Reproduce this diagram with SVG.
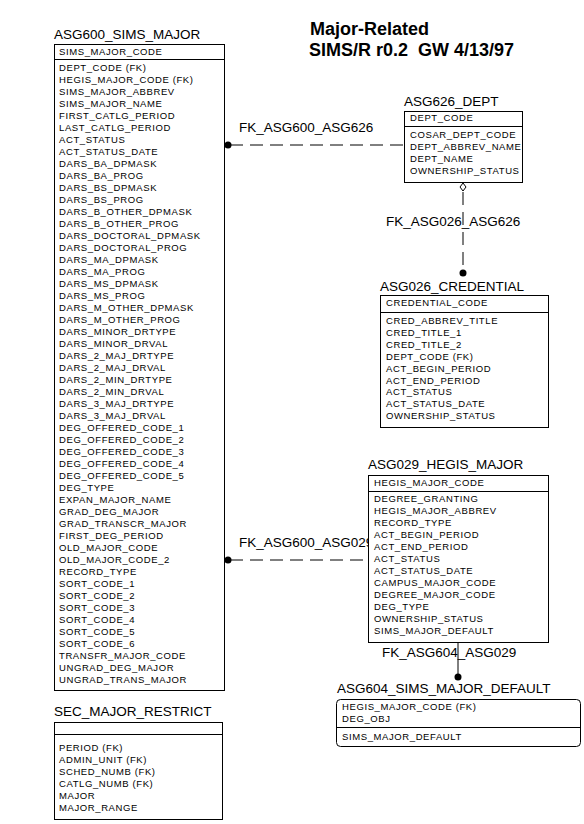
<svg xmlns="http://www.w3.org/2000/svg" width="584" height="824" viewBox="0 0 584 824">
<style>
.t{font-family:"Liberation Sans",Arial,sans-serif;font-size:13.5px;fill:#000}
.r{font-family:"Liberation Sans",Arial,sans-serif;font-size:9.5px;letter-spacing:0.6px;fill:#000}
.h{font-family:"Liberation Sans",Arial,sans-serif;font-size:18px;font-weight:bold;fill:#000}
.b{fill:#fff;stroke:#000;stroke-width:1}
.s{stroke:#000;stroke-width:1;fill:none}
.d{stroke:#000;stroke-width:1;fill:none;stroke-dasharray:13 7}
.dot{fill:#000}
</style>
<rect width="584" height="824" fill="#fff"/>
<g id="title">
<text class="h" x="310" y="35">Major-Related</text>
<text class="h" x="309" y="56" xml:space="preserve">SIMS/R r0.2  GW 4/13/97</text>
</g>
<g id="connectors">
<line class="d" x1="230" y1="145" x2="404" y2="145"/>
<circle class="dot" cx="228" cy="145" r="3.5"/>
<text class="t" x="239" y="132">FK_ASG600_ASG626</text>
<line class="d" x1="463" y1="192" x2="463" y2="270"/>
<path class="s" d="M463,183 L466,187 L463,191 L460,187 Z"/>
<circle class="dot" cx="463" cy="273" r="3.5"/>
<text class="t" x="386" y="226">FK_ASG026_ASG626</text>
<text class="t" x="239" y="547">FK_ASG600_ASG029</text>
<line class="d" x1="230" y1="560" x2="368" y2="560"/>
<circle class="dot" cx="228" cy="560" r="3.5"/>
<line class="s" x1="458" y1="643" x2="458" y2="676"/>
<circle class="dot" cx="458" cy="677" r="3.5"/>
<text class="t" x="382" y="657">FK_ASG604_ASG029</text>
</g>
<g id="ASG600_SIMS_MAJOR">
<text class="t" x="54" y="39">ASG600_SIMS_MAJOR</text>
<rect class="b" x="54.5" y="44.5" width="170" height="646"/>
<line class="s" x1="54" y1="59.5" x2="224" y2="59.5"/>
<text class="r" x="59" y="55">SIMS_MAJOR_CODE</text>
<text class="r" x="59" y="71">DEPT_CODE (FK)</text>
<text class="r" x="59" y="83">HEGIS_MAJOR_CODE (FK)</text>
<text class="r" x="59" y="95">SIMS_MAJOR_ABBREV</text>
<text class="r" x="59" y="107">SIMS_MAJOR_NAME</text>
<text class="r" x="59" y="119">FIRST_CATLG_PERIOD</text>
<text class="r" x="59" y="131">LAST_CATLG_PERIOD</text>
<text class="r" x="59" y="143">ACT_STATUS</text>
<text class="r" x="59" y="155">ACT_STATUS_DATE</text>
<text class="r" x="59" y="167">DARS_BA_DPMASK</text>
<text class="r" x="59" y="179">DARS_BA_PROG</text>
<text class="r" x="59" y="191">DARS_BS_DPMASK</text>
<text class="r" x="59" y="203">DARS_BS_PROG</text>
<text class="r" x="59" y="215">DARS_B_OTHER_DPMASK</text>
<text class="r" x="59" y="227">DARS_B_OTHER_PROG</text>
<text class="r" x="59" y="239">DARS_DOCTORAL_DPMASK</text>
<text class="r" x="59" y="251">DARS_DOCTORAL_PROG</text>
<text class="r" x="59" y="263">DARS_MA_DPMASK</text>
<text class="r" x="59" y="275">DARS_MA_PROG</text>
<text class="r" x="59" y="287">DARS_MS_DPMASK</text>
<text class="r" x="59" y="299">DARS_MS_PROG</text>
<text class="r" x="59" y="311">DARS_M_OTHER_DPMASK</text>
<text class="r" x="59" y="323">DARS_M_OTHER_PROG</text>
<text class="r" x="59" y="335">DARS_MINOR_DRTYPE</text>
<text class="r" x="59" y="347">DARS_MINOR_DRVAL</text>
<text class="r" x="59" y="359">DARS_2_MAJ_DRTYPE</text>
<text class="r" x="59" y="371">DARS_2_MAJ_DRVAL</text>
<text class="r" x="59" y="383">DARS_2_MIN_DRTYPE</text>
<text class="r" x="59" y="395">DARS_2_MIN_DRVAL</text>
<text class="r" x="59" y="407">DARS_3_MAJ_DRTYPE</text>
<text class="r" x="59" y="419">DARS_3_MAJ_DRVAL</text>
<text class="r" x="59" y="431">DEG_OFFERED_CODE_1</text>
<text class="r" x="59" y="443">DEG_OFFERED_CODE_2</text>
<text class="r" x="59" y="455">DEG_OFFERED_CODE_3</text>
<text class="r" x="59" y="467">DEG_OFFERED_CODE_4</text>
<text class="r" x="59" y="479">DEG_OFFERED_CODE_5</text>
<text class="r" x="59" y="491">DEG_TYPE</text>
<text class="r" x="59" y="503">EXPAN_MAJOR_NAME</text>
<text class="r" x="59" y="515">GRAD_DEG_MAJOR</text>
<text class="r" x="59" y="527">GRAD_TRANSCR_MAJOR</text>
<text class="r" x="59" y="539">FIRST_DEG_PERIOD</text>
<text class="r" x="59" y="551">OLD_MAJOR_CODE</text>
<text class="r" x="59" y="563">OLD_MAJOR_CODE_2</text>
<text class="r" x="59" y="575">RECORD_TYPE</text>
<text class="r" x="59" y="587">SORT_CODE_1</text>
<text class="r" x="59" y="599">SORT_CODE_2</text>
<text class="r" x="59" y="611">SORT_CODE_3</text>
<text class="r" x="59" y="623">SORT_CODE_4</text>
<text class="r" x="59" y="635">SORT_CODE_5</text>
<text class="r" x="59" y="647">SORT_CODE_6</text>
<text class="r" x="59" y="659">TRANSFR_MAJOR_CODE</text>
<text class="r" x="59" y="671">UNGRAD_DEG_MAJOR</text>
<text class="r" x="59" y="683">UNGRAD_TRANS_MAJOR</text>
</g>
<g id="ASG626_DEPT">
<text class="t" x="404" y="106">ASG626_DEPT</text>
<rect class="b" x="404.5" y="111.5" width="118" height="71"/>
<line class="s" x1="404" y1="126.5" x2="522" y2="126.5"/>
<text class="r" x="410" y="121">DEPT_CODE</text>
<text class="r" x="410" y="138">COSAR_DEPT_CODE</text>
<text class="r" x="410" y="150">DEPT_ABBREV_NAME</text>
<text class="r" x="410" y="162">DEPT_NAME</text>
<text class="r" x="410" y="174">OWNERSHIP_STATUS</text>
</g>
<g id="ASG026_CREDENTIAL">
<text class="t" x="380" y="291">ASG026_CREDENTIAL</text>
<rect class="b" x="380.5" y="295.5" width="168" height="132"/>
<line class="s" x1="380" y1="312.5" x2="548" y2="312.5"/>
<text class="r" x="386" y="306">CREDENTIAL_CODE</text>
<text class="r" x="386" y="324">CRED_ABBREV_TITLE</text>
<text class="r" x="386" y="336">CRED_TITLE_1</text>
<text class="r" x="386" y="348">CRED_TITLE_2</text>
<text class="r" x="386" y="360">DEPT_CODE (FK)</text>
<text class="r" x="386" y="372">ACT_BEGIN_PERIOD</text>
<text class="r" x="386" y="384">ACT_END_PERIOD</text>
<text class="r" x="386" y="395">ACT_STATUS</text>
<text class="r" x="386" y="407">ACT_STATUS_DATE</text>
<text class="r" x="386" y="419">OWNERSHIP_STATUS</text>
</g>
<g id="ASG029_HEGIS_MAJOR">
<text class="t" x="368" y="469">ASG029_HEGIS_MAJOR</text>
<rect class="b" x="368.5" y="475.5" width="180" height="167"/>
<line class="s" x1="368" y1="491.5" x2="548" y2="491.5"/>
<text class="r" x="374" y="486">HEGIS_MAJOR_CODE</text>
<text class="r" x="374" y="502">DEGREE_GRANTING</text>
<text class="r" x="374" y="514">HEGIS_MAJOR_ABBREV</text>
<text class="r" x="374" y="526">RECORD_TYPE</text>
<text class="r" x="374" y="538">ACT_BEGIN_PERIOD</text>
<text class="r" x="374" y="550">ACT_END_PERIOD</text>
<text class="r" x="374" y="562">ACT_STATUS</text>
<text class="r" x="374" y="574">ACT_STATUS_DATE</text>
<text class="r" x="374" y="586">CAMPUS_MAJOR_CODE</text>
<text class="r" x="374" y="598">DEGREE_MAJOR_CODE</text>
<text class="r" x="374" y="610">DEG_TYPE</text>
<text class="r" x="374" y="622">OWNERSHIP_STATUS</text>
<text class="r" x="374" y="634">SIMS_MAJOR_DEFAULT</text>
</g>
<g id="ASG604_SIMS_MAJOR_DEFAULT">
<text class="t" x="337" y="693">ASG604_SIMS_MAJOR_DEFAULT</text>
<rect class="b" x="336.5" y="699.5" width="244" height="47" rx="4" ry="4"/>
<line class="s" x1="336" y1="727.5" x2="580" y2="727.5"/>
<text class="r" x="342" y="710">HEGIS_MAJOR_CODE (FK)</text>
<text class="r" x="342" y="722">DEG_OBJ</text>
<text class="r" x="342" y="740">SIMS_MAJOR_DEFAULT</text>
</g>
<g id="SEC_MAJOR_RESTRICT">
<text class="t" x="54" y="716">SEC_MAJOR_RESTRICT</text>
<rect class="b" x="54.5" y="722.5" width="168" height="97"/>
<line class="s" x1="54" y1="734.5" x2="222" y2="734.5"/>
<text class="r" x="59" y="751">PERIOD (FK)</text>
<text class="r" x="59" y="763">ADMIN_UNIT (FK)</text>
<text class="r" x="59" y="775">SCHED_NUMB (FK)</text>
<text class="r" x="59" y="787">CATLG_NUMB (FK)</text>
<text class="r" x="59" y="799">MAJOR</text>
<text class="r" x="59" y="811">MAJOR_RANGE</text>
</g>
</svg>
